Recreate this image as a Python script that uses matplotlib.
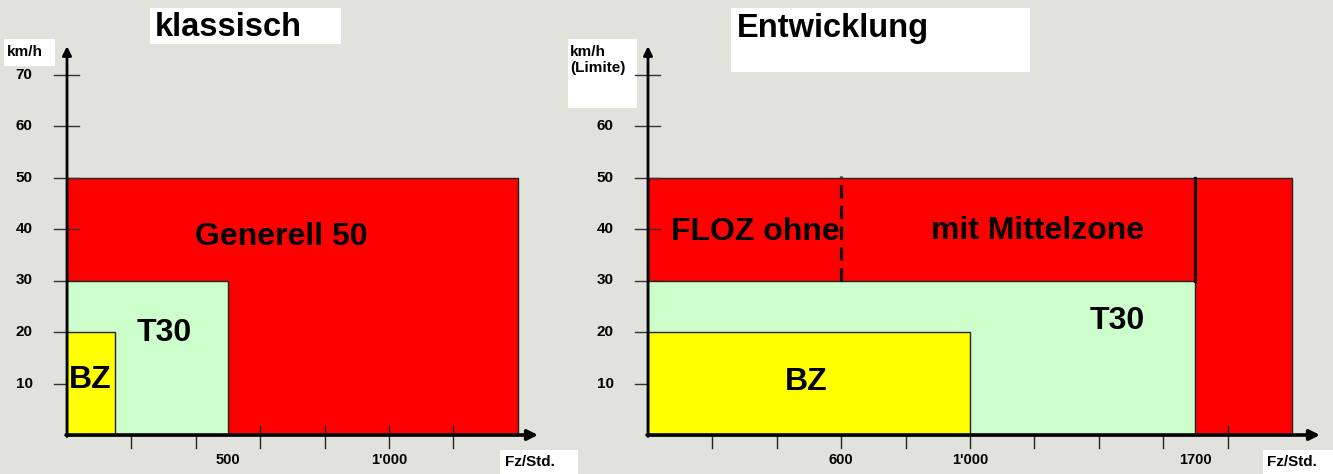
import matplotlib
matplotlib.use("Agg")
import matplotlib.pyplot as plt
from matplotlib.patches import Rectangle

plt.rcParams['font.family'] = ['Liberation Sans', 'DejaVu Sans']
plt.rcParams['font.weight'] = 'bold'

# --- data -------------------------------------------------------------
# left panel "klassisch"
left_names = ['Generell 50', 'T30', 'BZ']
left_widths = [1400, 500, 150]          # Fz/Std.
left_heights = [50, 30, 20]             # km/h
left_xticks = [200, 400, 600, 800, 1000, 1200]
left_xlabels = {500: '500', 1000: "1'000"}

# right panel "Entwicklung"
right_names = ['FLOZ', 'T30', 'BZ']
right_widths = [2000, 1700, 1000]
right_heights = [50, 30, 20]
right_dashed = 600
right_solid = 1700
right_xticks = [200, 400, 600, 800, 1000, 1200, 1400, 1600, 1800]
right_xlabels = {600: '600', 1000: "1'000", 1700: '1700'}

yticks = [10, 20, 30, 40, 50, 60, 70]

colors = {'Generell 50': '#ff0000', 'FLOZ': '#ff0000',
          'T30': '#ccffcc', 'BZ': '#ffff00'}
bg = '#e2e2dc'

W, H = 1333, 474
XS, YS = 0.322, 5.15   # px per unit
Y0 = 435               # px row of the x axis

fig = plt.figure(figsize=(W / 100, H / 100), dpi=100, facecolor=bg)


def make_axes(px_left, px_right, x0):
    ax = fig.add_axes([px_left / W, 0, (px_right - px_left) / W, 1])
    ax.set_xlim((px_left - x0) / XS, (px_right - x0) / XS)
    ax.set_ylim((Y0 - H) / YS, Y0 / YS)
    ax.axis('off')
    ax.patch.set_alpha(0)
    return ax


def to_data(x0, px, py):
    return (px - x0) / XS, (Y0 - py) / YS


def box(px, py, w, h):
    fig.add_artist(Rectangle((px / W, 1 - (py + h) / H), w / W, h / H,
                             transform=fig.transFigure, facecolor='white',
                             edgecolor='none', zorder=0))


def draw_panel(ax, names, widths, heights, xticks, xlabels, tip, ylabels):
    for i, (n, w, h) in enumerate(zip(names, widths, heights)):
        ax.add_patch(Rectangle((0, 0), w, h, facecolor=colors[n],
                               edgecolor='#222222', lw=1.0, zorder=2 + i * 2))
    # y ticks
    for t in yticks:
        ax.plot([-40, 37], [t, t], color='#333333', lw=1.0, zorder=3)
        if t in ylabels:
            ax.text(-133, t, str(t), ha='center', va='center', fontsize=11,
                    fontweight='bold', zorder=8)
    # x ticks
    for t in xticks:
        ax.plot([t, t], [-2.5, 1.7], color='#222222', lw=1.0, zorder=3)
    for t, lab in xlabels.items():
        ax.text(t, -4.9, lab, ha='center', va='center', fontsize=10.5,
                fontweight='bold', zorder=8)
    # axes with arrows
    ax.annotate('', xy=(tip, 0), xytext=(-3, 0),
                arrowprops=dict(arrowstyle='-|>', lw=2.6, color='black',
                                mutation_scale=15, shrinkA=0, shrinkB=0),
                zorder=9)
    ax.annotate('', xy=(0, 75.5), xytext=(0, -0.3),
                arrowprops=dict(arrowstyle='-|>', lw=2.0, color='black',
                                mutation_scale=13, shrinkA=0, shrinkB=0),
                zorder=9)


# white label boxes (figure background layer)
box(150, 8, 191, 36)     # klassisch
box(731, 8, 299, 64)     # Entwicklung
box(4, 39, 51, 27)       # km/h
box(568, 39, 69, 69)     # km/h (Limite)
box(500, 450, 78, 24)    # Fz/Std. left
box(1263, 450, 70, 24)   # Fz/Std. right

fig.text(155 / W, 1 - 28 / H, 'klassisch', fontsize=23.5, fontweight='bold',
         ha='left', va='center')
fig.text(737 / W, 1 - 28 / H, 'Entwicklung', fontsize=23.5, fontweight='bold',
         ha='left', va='center')
fig.text(7 / W, 1 - 52 / H, 'km/h', fontsize=11, fontweight='bold',
         ha='left', va='center')
fig.text(570 / W, 1 - 45 / H, 'km/h\n(Limite)', fontsize=11, fontweight='bold',
         ha='left', va='top', linespacing=1.15)
fig.text(505 / W, 1 - 462 / H, 'Fz/Std.', fontsize=11, fontweight='bold',
         ha='left', va='center')
fig.text(1267 / W, 1 - 462 / H, 'Fz/Std.', fontsize=11, fontweight='bold',
         ha='left', va='center')

# left panel
X0L = 67
ax1 = make_axes(0, 560, X0L)
draw_panel(ax1, left_names, left_widths, left_heights, left_xticks,
           left_xlabels, (538 - X0L) / XS, yticks)
for lab, (px, py) in zip(['Generell 50', 'T30', 'BZ'],
                         [(281, 237), (164, 333), (90, 380)]):
    x, y = to_data(X0L, px, py)
    ax1.text(x, y, lab, ha='center', va='center', fontsize=23,
             fontweight='bold', zorder=10)

# right panel
X0R = 648
ax2 = make_axes(560, 1333, X0R)
draw_panel(ax2, right_names, right_widths, right_heights, right_xticks,
           right_xlabels, (1320 - X0R) / XS, yticks[:-1])
ax2.plot([right_dashed, right_dashed], [30, 50.3], color='#111111', lw=2.3,
         linestyle=(0, (4.2, 2.3)), zorder=9)
ax2.plot([right_solid, right_solid], [30, 50], color='#111111', lw=2.3,
         zorder=9)
for lab, (px, py) in zip(['FLOZ ohne', 'mit Mittelzone', 'T30', 'BZ'],
                         [(755, 232), (1038, 231), (1117, 321), (806, 382)]):
    x, y = to_data(X0R, px, py)
    ax2.text(x, y, lab, ha='center', va='center', fontsize=23,
             fontweight='bold', zorder=10)

fig.savefig('out.png', dpi=100, facecolor=bg)
